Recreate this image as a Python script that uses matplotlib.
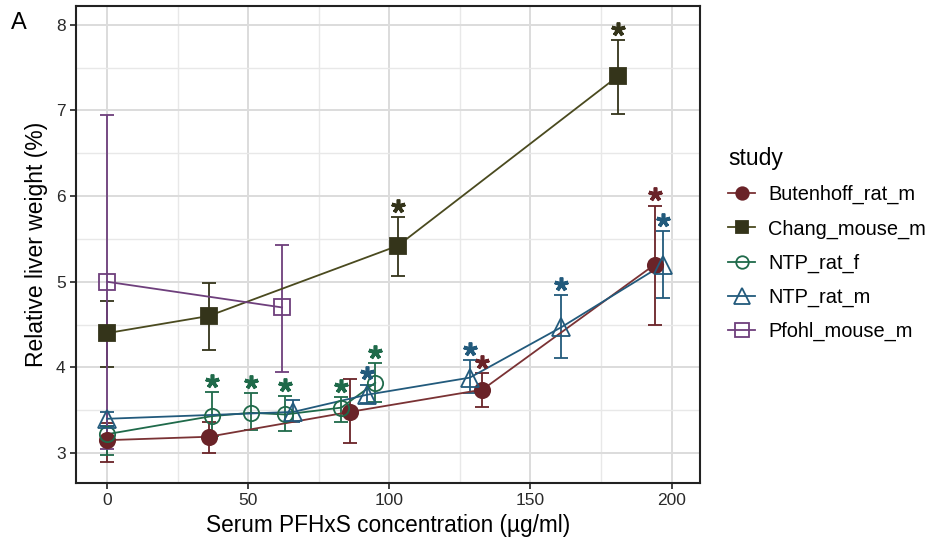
import matplotlib
matplotlib.use("Agg")
import matplotlib.pyplot as plt
from matplotlib.lines import Line2D

plt.rcParams["font.family"] = ["Liberation Sans", "DejaVu Sans"]

# data: x = serum PFHxS (ug/ml), y = relative liver weight (%)
studies = ["Butenhoff_rat_m", "Chang_mouse_m", "NTP_rat_f", "NTP_rat_m", "Pfohl_mouse_m"]

butenhoff_x = [0, 36, 86, 133, 194]
butenhoff_y = [3.15, 3.19, 3.48, 3.74, 5.20]
butenhoff_lo = [2.90, 3.00, 3.12, 3.54, 4.50]
butenhoff_hi = [3.35, 3.36, 3.86, 3.93, 5.89]
butenhoff_sig = [0, 0, 0, 1, 1]

chang_x = [0, 36, 103, 181]
chang_y = [4.40, 4.60, 5.42, 7.40]
chang_lo = [4.00, 4.20, 5.07, 6.96]
chang_hi = [4.78, 4.98, 5.76, 7.82]
chang_sig = [0, 0, 1, 1]

ntp_f_x = [0, 37, 51, 63, 83, 95]
ntp_f_y = [3.22, 3.43, 3.47, 3.45, 3.53, 3.82]
ntp_f_lo = [2.98, 3.20, 3.27, 3.26, 3.36, 3.60]
ntp_f_hi = [3.32, 3.71, 3.70, 3.67, 3.65, 4.05]
ntp_f_sig = [0, 1, 1, 1, 1, 1]

ntp_m_x = [0, 66, 92, 128.5, 161, 197]
ntp_m_y = [3.40, 3.48, 3.68, 3.88, 4.47, 5.20]
ntp_m_lo = [3.32, 3.36, 3.58, 3.70, 4.11, 4.81]
ntp_m_hi = [3.48, 3.62, 3.80, 4.09, 4.84, 5.59]
ntp_m_sig = [0, 0, 1, 1, 1, 1]

pfohl_x = [0, 62]
pfohl_y = [5.00, 4.70]
pfohl_lo = [3.05, 3.95]
pfohl_hi = [6.95, 5.43]
pfohl_sig = [0, 0]

series = [
    (butenhoff_x, butenhoff_y, butenhoff_lo, butenhoff_hi, butenhoff_sig),
    (chang_x, chang_y, chang_lo, chang_hi, chang_sig),
    (ntp_f_x, ntp_f_y, ntp_f_lo, ntp_f_hi, ntp_f_sig),
    (ntp_m_x, ntp_m_y, ntp_m_lo, ntp_m_hi, ntp_m_sig),
    (pfohl_x, pfohl_y, pfohl_lo, pfohl_hi, pfohl_sig),
]

colors = ["#6a2328", "#34341a", "#1f6a4a", "#225a7c", "#6e3f7c"]
line_colors = ["#7a3234", "#4a4a1f", "#1f6a4a", "#225a7c", "#6e3f7c"]
markers = ["o", "s", "o", "^", "s"]
filled = [True, True, False, False, False]
msizes = [11, 11, 11, 13, 12]

fig = plt.figure(figsize=(9.33, 5.46), dpi=100)
ax = fig.add_axes([0.0815, 0.1154, 0.6685, 0.8736])

for i, (x, y, lo, hi, sig) in enumerate(series):
    c = colors[i]
    yerr = [[yy - l for yy, l in zip(y, lo)], [h - yy for yy, h in zip(y, hi)]]
    ax.errorbar(x, y, yerr=yerr, fmt="none", ecolor=c, elinewidth=1.3,
                capsize=5, capthick=1.3, zorder=2)
    ax.plot(x, y, color=line_colors[i], linewidth=1.3, zorder=3)
    ax.plot(x, y, linestyle="none", marker=markers[i], markersize=msizes[i],
            markerfacecolor=c if filled[i] else "none", markeredgecolor=c,
            markeredgewidth=1.3, zorder=4)
    sx = [xx for xx, s in zip(x, sig) if s]
    sy = [h + 0.13 for h, s in zip(hi, sig) if s]
    ax.plot(sx, sy, linestyle="none", marker=(5, 2, 0), markersize=10,
            markeredgewidth=2.6, color=c, zorder=5)

ax.set_xlim(-11, 210)
ax.set_ylim(2.65, 8.22)
ax.set_xticks([0, 50, 100, 150, 200])
ax.set_yticks([3, 4, 5, 6, 7, 8])
ax.set_xticks([25, 75, 125, 175], minor=True)
ax.set_yticks([3.5, 4.5, 5.5, 6.5, 7.5], minor=True)
ax.grid(which="major", color="#dcdcdc", linewidth=1.4)
ax.grid(which="minor", color="#e8e8e8", linewidth=1.0)
ax.set_axisbelow(True)
ax.tick_params(which="major", length=4, width=1.2, colors="#222222",
               labelsize=12.5, labelcolor="#2a2a2a")
ax.tick_params(which="minor", length=0)
for sp in ax.spines.values():
    sp.set_color("#222222")
    sp.set_linewidth(1.5)

ax.set_xlabel("Serum PFHxS concentration (µg/ml)", fontsize=16.3, labelpad=4)
ax.set_ylabel("Relative liver weight (%)", fontsize=16.5, labelpad=6)

fig.text(0.012, 0.958, "A", fontsize=17, ha="left", va="center")

handles = []
for i, name in enumerate(studies):
    handles.append(Line2D([], [], color=line_colors[i], linewidth=1.3, marker=markers[i],
                          markersize=msizes[i] - 2,
                          markerfacecolor=colors[i] if filled[i] else "none",
                          markeredgecolor=colors[i], markeredgewidth=1.3, label=name))
leg = fig.legend(handles=handles, title="study", loc="upper left",
                 bbox_to_anchor=(0.772, 0.745), frameon=False, fontsize=14.4,
                 title_fontsize=16.5, labelspacing=0.75, handlelength=1.35,
                 handletextpad=0.65, borderaxespad=0)
leg._legend_box.align = "left"

fig.savefig("out.png", dpi=100)
